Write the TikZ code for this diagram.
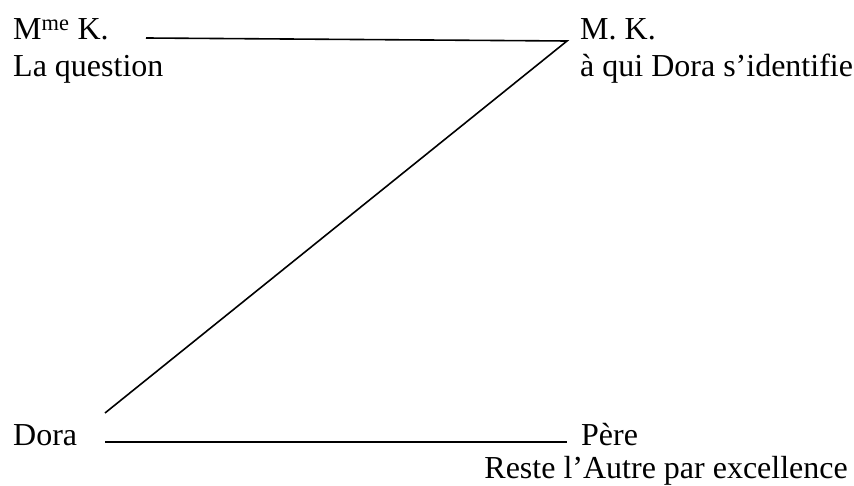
\documentclass[tikz,border=0pt]{standalone}
\usepackage{fontspec}
\setmainfont{Liberation Serif}
\begin{document}
\begin{tikzpicture}[x=1pt,y=-1pt,
  lbl/.style={anchor=base west,inner sep=0pt,font=\fontsize{32}{37}\selectfont},
  lblr/.style={anchor=base east,inner sep=0pt,font=\fontsize{32}{37}\selectfont},
  link/.style={line width=1.6pt}]
\useasboundingbox (0,0) rectangle (854,486);
\node[lbl] (mme) at (13,40) {M\textsuperscript{me} K.};
\node[lbl] (quest) at (13,77) {La question};
\node[lbl] (mk) at (580,40) {M. K.};
\node[lbl] (ident) at (580,77) {à qui Dora s’identifie};
\node[lbl] (dora) at (13,445) {Dora};
\node[lbl] (pere) at (581,445) {Père};
\node[lblr] (autre) at (848,478.5) {Reste l’Autre par excellence};
\coordinate (a) at (146,38);
\coordinate (b) at (567,41);
\coordinate (c) at (105,413);
\coordinate (d) at (105,442);
\coordinate (e) at (567,442);
\draw[link] (a) -- (b) -- (c);
\draw[link] (d) -- (e);
\end{tikzpicture}
\end{document}
